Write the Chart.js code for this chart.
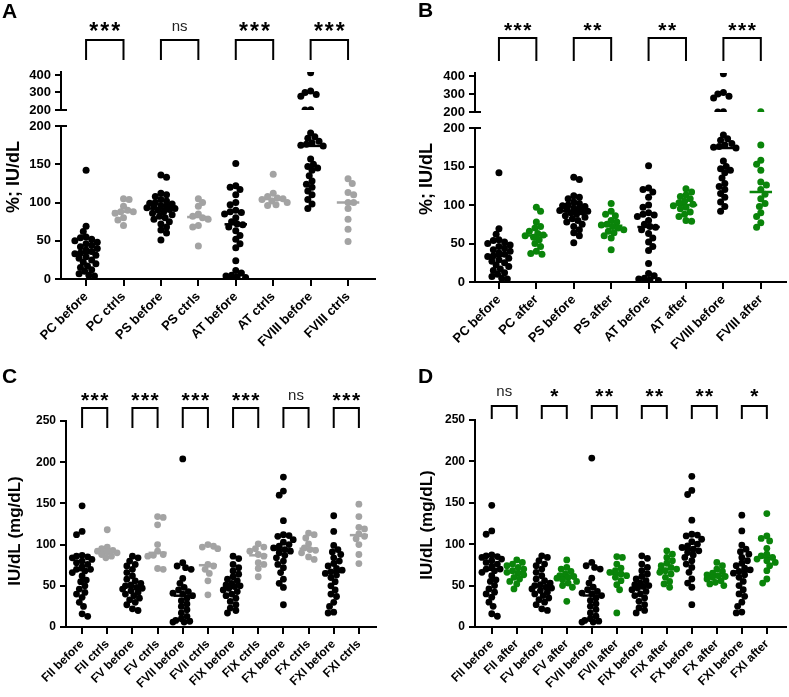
<!DOCTYPE html>
<html>
<head>
<meta charset="utf-8">
<script src="https://cdn.jsdelivr.net/npm/chart.js@4.4.1/dist/chart.umd.min.js"></script>
<style>
  body { margin: 0; background: #fff; }
  #wrap { position: relative; width: 789px; height: 697px; overflow: hidden; }
  canvas { position: absolute; }
</style>
</head>
<body>
<div id="wrap">
  <canvas id="chartA" width="395" height="360" style="left:0;top:0"></canvas>
  <canvas id="chartB" width="394" height="360" style="left:395px;top:0"></canvas>
  <canvas id="chartC" width="395" height="357" style="left:0;top:340px"></canvas>
  <canvas id="chartD" width="394" height="357" style="left:395px;top:340px"></canvas>
</div>
<script>
/*-------------------
    DATA
--------------------*/
const catsA = ['PC before', 'PC ctrls', 'PS before', 'PS ctrls', 'AT before', 'AT ctrls', 'FVIII before', 'FVIII ctrls'];
const catsB = ['PC before', 'PC after', 'PS before', 'PS after', 'AT before', 'AT after', 'FVIII before', 'FVIII after'];
const catsC = ['FII before', 'FII ctrls', 'FV before', 'FV ctrls', 'FVII before', 'FVII ctrls', 'FIX before', 'FIX ctrls', 'FX before', 'FX ctrls', 'FXI before', 'FXI ctrls'];
const catsD = ['FII before', 'FII after', 'FV before', 'FV after', 'FVII before', 'FVII after', 'FIX before', 'FIX after', 'FX before', 'FX after', 'FXI before', 'FXI after'];

const sigA = ['***', 'ns', '***', '***'];
const sigB = ['***', '**', '**', '***'];
const sigC = ['***', '***', '***', '***', 'ns', '***'];
const sigD = ['ns', '*', '**', '**', '**', '*'];

const ticksLow = [0, 50, 100, 150, 200];
const ticksUp = [200, 300, 400];
const ticksCD = [0, 50, 100, 150, 200, 250];

// %; IU/dL
const pcBefore = [142, 69, 62, 55, 54, 52, 50, 48, 46, 44, 42, 40, 38, 36, 34, 33, 31, 29, 27, 25, 22, 20, 17, 15, 12, 10, 7, 5, 4];
const pcCtrls = [105, 104, 95, 90, 88, 88, 86, 80, 77, 70];
const pcAfter = [97, 92, 78, 72, 70, 66, 63, 61, 60, 58, 55, 50, 46, 40, 37, 36];
const psBefore = [136, 133, 112, 110, 108, 104, 102, 100, 99, 98, 96, 95, 94, 93, 92, 91, 90, 88, 86, 84, 82, 80, 78, 75, 72, 68, 64, 60, 51];
const psCtrls = [105, 100, 95, 85, 82, 80, 78, 70, 68, 43];
const psAfter = [102, 92, 88, 86, 80, 78, 75, 74, 72, 70, 68, 66, 64, 60, 57, 42];
const atBefore = [151, 122, 120, 117, 110, 100, 97, 90, 88, 87, 85, 80, 75, 72, 71, 68, 63, 57, 52, 46, 41, 24, 11, 8, 5, 4, 3, 2];
const atCtrls = [137, 112, 108, 106, 105, 104, 102, 100, 97, 96];
const atAfter = [121, 117, 113, 111, 108, 105, 103, 101, 99, 97, 95, 91, 88, 85, 80, 79];
const f8Before = [413, 308, 300, 288, 278, 201, 200, 191, 186, 184, 180, 178, 176, 175, 174, 157, 150, 147, 145, 142, 135, 128, 124, 120, 115, 110, 104, 98, 92];
const f8Ctrls = [131, 125, 113, 110, 100, 100, 92, 78, 65, 49];
const f8After = [201, 178, 158, 153, 145, 130, 126, 120, 114, 108, 102, 98, 90, 85, 77, 71];

// IU/dL (mg/dL)
const fiiBefore = [147, 116, 112, 87, 86, 85, 84, 82, 80, 78, 76, 73, 70, 70, 68, 66, 62, 57, 55, 50, 46, 42, 40, 36, 30, 25, 16, 13];
const fiiCtrls = [118, 97, 95, 93, 92, 91, 90, 88, 86, 84];
const fiiAfter = [81, 78, 76, 74, 72, 70, 68, 66, 65, 63, 60, 58, 55, 52, 46];
const fvBefore = [86, 84, 80, 76, 74, 70, 66, 62, 58, 56, 53, 51, 50, 48, 47, 46, 44, 42, 40, 38, 35, 33, 30, 27, 22, 20];
const fvCtrls = [134, 133, 124, 100, 92, 88, 87, 86, 71, 70];
const fvAfter = [81, 72, 70, 67, 64, 62, 61, 60, 59, 57, 55, 53, 50, 48, 31];
const fviiBefore = [204, 78, 74, 72, 70, 59, 53, 48, 45, 43, 41, 40, 38, 35, 32, 28, 25, 21, 17, 13, 10, 8, 7, 6, 6];
const fviiCtrls = [100, 98, 97, 95, 76, 74, 70, 65, 56, 39];
const fviiAfter = [85, 84, 76, 71, 68, 66, 64, 62, 60, 56, 51, 45, 17];
const fixBefore = [86, 83, 76, 72, 68, 64, 61, 58, 56, 53, 51, 50, 49, 47, 45, 43, 40, 38, 35, 31, 27, 23, 20, 17];
const fixCtrls = [101, 97, 95, 92, 88, 86, 78, 76, 71, 61];
const fixAfter = [92, 88, 84, 80, 77, 74, 72, 70, 68, 66, 64, 60, 55, 52, 48];
const fxBefore = [182, 165, 160, 129, 112, 111, 110, 106, 103, 100, 98, 96, 94, 92, 90, 87, 84, 80, 76, 72, 66, 58, 53, 48, 27];
const fxCtrls = [114, 112, 108, 101, 96, 94, 93, 90, 85, 82];
const fxAfter = [78, 74, 70, 67, 65, 63, 62, 61, 60, 58, 56, 54, 52, 50];
const fxiBefore = [135, 116, 99, 94, 91, 88, 84, 80, 77, 74, 71, 69, 67, 65, 63, 60, 55, 50, 45, 40, 37, 30, 25, 18, 17];
const fxiCtrls = [149, 134, 121, 119, 113, 110, 107, 100, 88, 77];
const fxiAfter = [137, 110, 107, 104, 95, 88, 86, 84, 82, 80, 78, 74, 68, 58, 53];

/*-------------------
    HELPERS
--------------------*/
const FONT = "'Liberation Sans', Arial, sans-serif";
const GRAY = '#a3a3a3';
const GREEN = '#0a840a';

function median(a) {
    const s = [...a].sort((p, q) => p - q);
    const n = s.length;
    return n % 2 ? s[(n - 1) / 2] : (s[n / 2 - 1] + s[n / 2]) / 2;
}

// spread the dots of each group sideways so they don't pile up
function swarm(chart) {
    const xs = chart.scales.x;
    const pxCat = xs.getPixelForValue(1) - xs.getPixelForValue(0);
    const STEP = 1.4, GAP = 5.6;
    chart.data.datasets.forEach(ds => {
        if (!ds.vals) return;
        const ys = chart.scales[ds.yAxisID];
        const maxOff = 0.4 * pxCat;
        const pts = ds.vals.map(v => ({v, py: ys.getPixelForValue(v), off: 0})).sort((a, b) => a.py - b.py);
        const placed = [];
        pts.forEach((p, n) => {
            let best = 0, bestCost = Infinity;
            for (let k = 0; k < 80; k++) {
                const mag = Math.ceil(k / 2) * STEP;
                if (mag > maxOff) break;
                const off = (k % 2 === n % 2 ? 1 : -1) * mag;
                let cost = 0;
                placed.forEach(q => {
                    const d = Math.hypot(off - q.off, p.py - q.py);
                    if (d < GAP) cost += GAP - d;
                });
                if (cost === 0) { best = off; bestCost = 0; break; }
                if (cost < bestCost) { bestCost = cost; best = off; }
            }
            p.off = best;
            placed.push(p);
        });
        ds.data = pts.map(p => ({x: ds.group + p.off / pxCat, y: p.v}));
    });
    chart.update('none');
}

const decor = {
    id: 'decor',
    afterDraw(chart, args, o) {
        const ctx = chart.ctx;
        const xs = chart.scales.x;
        ctx.save();
        ctx.fillStyle = '#000';
        ctx.font = `bold 21px ${FONT}`;
        ctx.textAlign = 'left';
        ctx.textBaseline = 'alphabetic';
        ctx.fillText(o.letter, o.letterX, o.letterY);

        ctx.save();
        ctx.translate(o.titleX, o.titleY);
        ctx.rotate(-Math.PI / 2);
        ctx.font = `bold ${o.titleSize}px ${FONT}`;
        ctx.textAlign = 'center';
        ctx.textBaseline = 'middle';
        ctx.fillText(o.title, 0, 0);
        ctx.restore();

        ctx.strokeStyle = '#000';
        ctx.lineWidth = 2;
        o.sig.forEach((s, k) => {
            const x0 = xs.getPixelForValue(2 * k), x1 = xs.getPixelForValue(2 * k + 1);
            ctx.beginPath();
            ctx.moveTo(x0, o.brBottom);
            ctx.lineTo(x0, o.brTop);
            ctx.lineTo(x1, o.brTop);
            ctx.lineTo(x1, o.brBottom);
            ctx.stroke();
            const cx = (x0 + x1) / 2;
            ctx.textAlign = 'center';
            if (s === 'ns') {
                ctx.letterSpacing = '0px';
                ctx.font = `15px ${FONT}`;
                ctx.fillStyle = '#222';
                ctx.fillText(s, cx, o.starY + 4);
            } else {
                ctx.letterSpacing = o.starSpacing + 'px';
                ctx.font = `bold ${o.starSize}px ${FONT}`;
                ctx.fillStyle = '#000';
                ctx.fillText(s, cx + o.starSpacing / 2, o.starY + 0.52 * o.starSize);
            }
        });

        // axis break caps
        if (chart.scales.yUp) {
            const ax = chart.chartArea.left;
            [chart.scales.yUp.bottom, chart.scales.y.top].forEach(yy => {
                ctx.beginPath();
                ctx.moveTo(ax, yy);
                ctx.lineTo(ax + 6, yy);
                ctx.stroke();
            });
        }
        ctx.restore();
    }
};

function makePanel(id, p) {
    const datasets = [];
    p.groups.forEach((vals, i) => {
        const col = i % 2 ? p.altColor : '#000';
        const segs = p.broken
            ? [['y', vals.filter(v => v < 200)], ['yUp', vals.filter(v => v >= 200)]]
            : [['y', vals]];
        segs.forEach(([axis, v]) => {
            if (!v.length) return;
            datasets.push({
                vals: v, group: i, yAxisID: axis,
                data: v.map(y => ({x: i, y})),
                backgroundColor: col, borderWidth: 0,
                pointRadius: p.dot, pointHoverRadius: p.dot
            });
        });
        const m = median(vals);
        datasets.push({
            yAxisID: p.broken && m >= 200 ? 'yUp' : 'y',
            showLine: true, pointRadius: 0, borderColor: col, borderWidth: 2.5,
            data: [{x: i - p.medW, y: m}, {x: i + p.medW, y: m}]
        });
    });

    const tickFont = {family: FONT, size: p.tickSize, weight: 'bold'};
    const yAxis = (min, max, ticks, extra) => Object.assign({
        type: 'linear', min, max,
        afterBuildTicks: s => { s.ticks = ticks.map(v => ({value: v})); },
        ticks: {color: '#000', font: tickFont, padding: 4, autoSkip: false},
        grid: {drawOnChartArea: false, color: '#000', lineWidth: 2, tickLength: 6},
        border: {color: '#000', width: 2},
        afterFit: s => { s.width = p.axisW; }
    }, extra);

    const scales = {
        x: {
            type: 'linear', min: p.xMin, max: p.xMax,
            afterBuildTicks: s => { s.ticks = p.cats.map((c, i) => ({value: i})); },
            ticks: {
                autoSkip: false, minRotation: 45, maxRotation: 45, color: '#000',
                font: tickFont, padding: 3, callback: v => p.cats[v]
            },
            grid: {drawOnChartArea: false, color: '#000', lineWidth: 2, tickLength: 7},
            border: {color: '#000', width: 2},
            afterFit: s => { s.height = p.xH; }
        }
    };
    if (p.broken) {
        scales.y = yAxis(0, 200, ticksLow, {stack: 's', stackWeight: p.wLow, weight: 1});
        scales.yGap = {display: false, min: 0, max: 1, stack: 's', stackWeight: p.wGap, weight: 2};
        scales.yUp = yAxis(200, 417, ticksUp, {stack: 's', stackWeight: p.wUp, weight: 3});
    } else {
        scales.y = yAxis(0, 250, ticksCD, {});
    }

    const chart = new Chart(document.getElementById(id), {
        type: 'scatter',
        data: {datasets},
        options: {
            responsive: false,
            animation: false,
            layout: {padding: p.pad},
            plugins: {
                legend: {display: false},
                tooltip: {enabled: false},
                decor: p.decor
            },
            scales
        },
        plugins: [decor]
    });
    swarm(chart);
    return chart;
}

/*-------------------
    PANELS
--------------------*/
makePanel('chartA', {
    cats: catsA, altColor: GRAY, broken: true,
    groups: [pcBefore, pcCtrls, psBefore, psCtrls, atBefore, atCtrls, f8Before, f8Ctrls],
    xMin: -0.67, xMax: 7.72, axisW: 61, xH: 81, tickSize: 13, dot: 3.5, medW: 0.3,
    wUp: 38, wGap: 16, wLow: 153,
    pad: {top: 72, left: 0, right: 20, bottom: 0},
    decor: {letter: 'A', letterX: 2, letterY: 18, title: '%; IU/dL', titleX: 14, titleY: 177, titleSize: 18,
        sig: sigA, brTop: 40, brBottom: 60, starY: 27, starSize: 23, starSpacing: 2}
});

makePanel('chartB', {
    cats: catsB, altColor: GREEN, broken: true,
    groups: [pcBefore, pcAfter, psBefore, psAfter, atBefore, atAfter, f8Before, f8After],
    xMin: -0.64, xMax: 7.66, axisW: 80, xH: 78, tickSize: 13, dot: 3.5, medW: 0.3,
    wUp: 39, wGap: 16, wLow: 154,
    pad: {top: 73, left: 0, right: 2, bottom: 0},
    decor: {letter: 'B', letterX: 23, letterY: 17, title: '%; IU/dL', titleX: 32, titleY: 179, titleSize: 18,
        sig: sigB, brTop: 38, brBottom: 61, starY: 26, starSize: 21, starSpacing: 1.5}
});

makePanel('chartC', {
    cats: catsC, altColor: GRAY, broken: false,
    groups: [fiiBefore, fiiCtrls, fvBefore, fvCtrls, fviiBefore, fviiCtrls, fixBefore, fixCtrls, fxBefore, fxCtrls, fxiBefore, fxiCtrls],
    xMin: -0.64, xMax: 11.68, axisW: 66, xH: 70, tickSize: 12, dot: 3.4, medW: 0.36,
    pad: {top: 81, left: 0, right: 19, bottom: 0},
    decor: {letter: 'C', letterX: 2, letterY: 43, title: 'IU/dL (mg/dL)', titleX: 15, titleY: 191, titleSize: 17,
        sig: sigC, brTop: 68, brBottom: 88, starY: 56, starSize: 21, starSpacing: 1.5}
});

makePanel('chartD', {
    cats: catsD, altColor: GREEN, broken: false,
    groups: [fiiBefore, fiiAfter, fvBefore, fvAfter, fviiBefore, fviiAfter, fixBefore, fixAfter, fxBefore, fxAfter, fxiBefore, fxiAfter],
    xMin: -0.67, xMax: 11.75, axisW: 80, xH: 70, tickSize: 12, dot: 3.4, medW: 0.36,
    pad: {top: 80, left: 0, right: 0, bottom: 0},
    decor: {letter: 'D', letterX: 23, letterY: 43, title: 'IU/dL (mg/dL)', titleX: 32, titleY: 185, titleSize: 17,
        sig: sigD, brTop: 66, brBottom: 79, starY: 52, starSize: 21, starSpacing: 1.5}
});
</script>
</body>
</html>
